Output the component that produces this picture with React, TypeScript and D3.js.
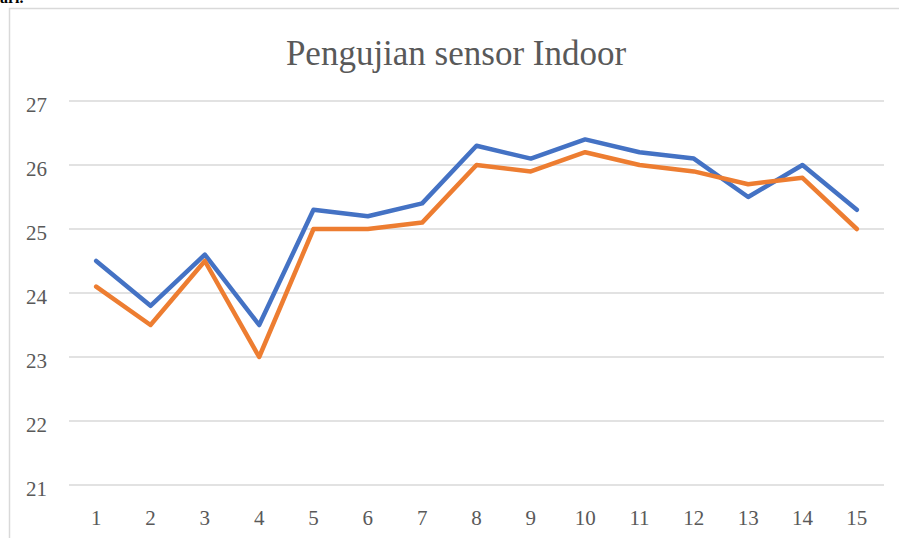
import { useEffect, useRef } from 'react';
import * as d3 from 'd3';

const categories = ['1', '2', '3', '4', '5', '6', '7', '8', '9', '10', '11', '12', '13', '14', '15'];
const seriesBlue = [24.5, 23.8, 24.6, 23.5, 25.3, 25.2, 25.4, 26.3, 26.1, 26.4, 26.2, 26.1, 25.5, 26.0, 25.3];
const seriesOrange = [24.1, 23.5, 24.5, 23.0, 25.0, 25.0, 25.1, 26.0, 25.9, 26.2, 26.0, 25.9, 25.7, 25.8, 25.0];
const yTicks = [21, 22, 23, 24, 25, 26, 27];
const title = 'Pengujian sensor Indoor';

const width = 899;
const height = 538;
const font = '"Liberation Serif", "Times New Roman", serif';

export default function App() {
  const svgRef = useRef<SVGSVGElement>(null);

  useEffect(() => {
    const svg = d3.select(svgRef.current);
    svg.selectAll('*').remove();

    const left = 69;
    const right = 884;
    const top = 101;
    const bottom = 485;

    const x = d3.scalePoint().domain(categories).range([left, right]).padding(0.5);
    const y = d3.scaleLinear().domain([21, 27]).range([bottom, top]);

    // bit of the page text above the chart, cut by the crop
    svg.append('text')
      .attr('x', 0).attr('y', 3)
      .attr('font-family', font).attr('font-weight', 'bold').attr('font-size', 16)
      .attr('fill', '#000')
      .text('ari.');
    svg.append('path')
      .attr('d', `M9.5,${height} V8.5 H${width}`)
      .attr('fill', 'none')
      .attr('stroke', '#d9d9d9')
      .attr('stroke-width', 1.5);

    svg.append('text')
      .attr('x', 456).attr('y', 65)
      .attr('text-anchor', 'middle')
      .attr('font-family', font).attr('font-size', 35)
      .attr('fill', '#595959')
      .text(title);

    svg.append('g').selectAll('line')
      .data(yTicks)
      .join('line')
      .attr('x1', left).attr('x2', right)
      .attr('y1', d => y(d)).attr('y2', d => y(d))
      .attr('stroke', '#d9d9d9')
      .attr('stroke-width', 1.5);

    svg.append('g').selectAll('text')
      .data(yTicks)
      .join('text')
      .attr('x', 47)
      .attr('y', d => y(d) + 11)
      .attr('text-anchor', 'end')
      .attr('font-family', font).attr('font-size', 21)
      .attr('fill', '#595959')
      .text(d => d);

    svg.append('g').selectAll('text')
      .data(categories)
      .join('text')
      .attr('x', d => x(d)!)
      .attr('y', 525)
      .attr('text-anchor', 'middle')
      .attr('font-family', font).attr('font-size', 21)
      .attr('fill', '#595959')
      .text(d => d);

    const line = d3.line<number>()
      .x((_, i) => x(categories[i])!)
      .y(d => y(d));

    [[seriesBlue, '#4472c4'], [seriesOrange, '#ed7d31']].forEach(([data, color]) => {
      svg.append('path')
        .datum(data as number[])
        .attr('d', line)
        .attr('fill', 'none')
        .attr('stroke', color as string)
        .attr('stroke-width', 4.5)
        .attr('stroke-linejoin', 'round')
        .attr('stroke-linecap', 'round');
    });
  }, []);

  return (
    <div style={{ position: 'absolute', left: 0, top: 0 }}>
      <svg ref={svgRef} width={width} height={height} style={{ display: 'block', background: '#fff' }} />
    </div>
  );
}
